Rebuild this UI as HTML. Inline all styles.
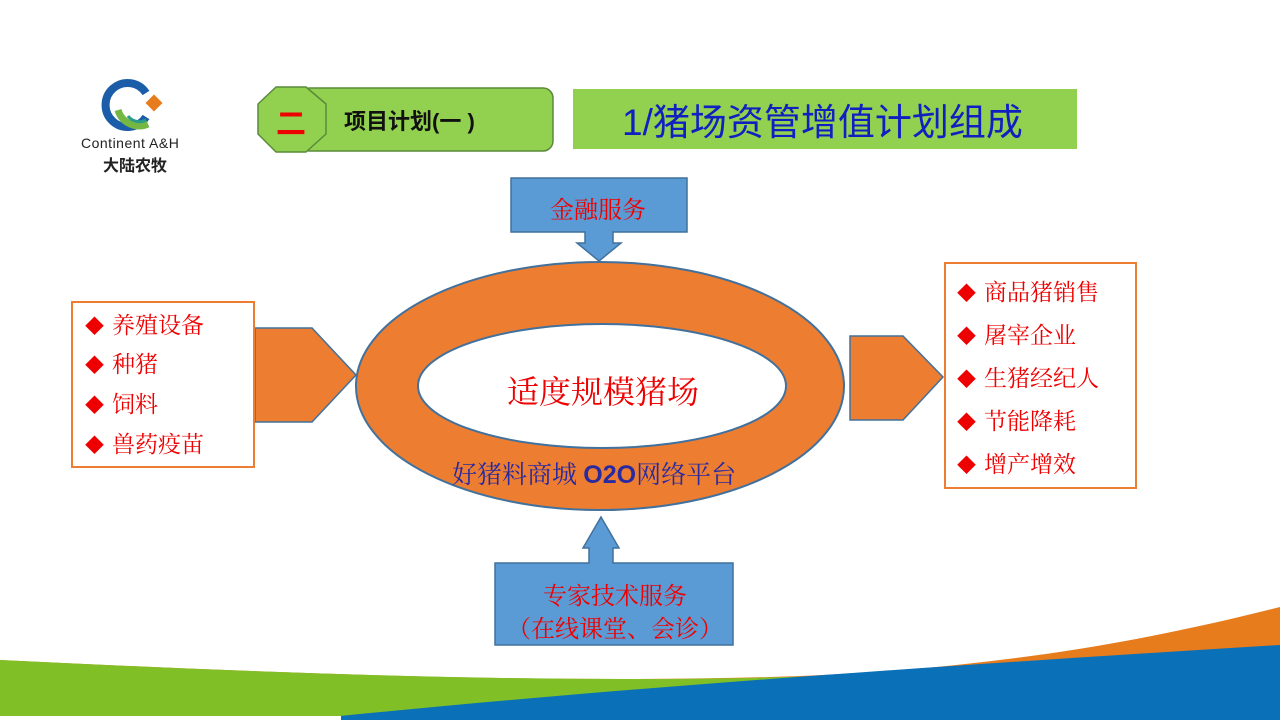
<!DOCTYPE html>
<html><head><meta charset="utf-8"><style>
body{margin:0;width:1280px;height:720px;position:relative;overflow:hidden;background:#fff;font-family:"Liberation Sans","Noto Sans CJK SC",sans-serif}
.a{position:absolute;white-space:nowrap}
.serif{font-family:"Liberation Serif","Noto Serif CJK SC",serif}
.li{position:absolute;font-size:23px;color:#e00;line-height:28px;font-family:"Liberation Serif","Noto Serif CJK SC",serif;white-space:nowrap}
.li span{font-size:19px;margin-right:8px}
</style></head><body>
<svg class="a" style="left:0;top:0" width="1280" height="720">
<path d="M0,660 C250,672 550,685 800,676 C1000,668 1150,640 1280,607 L1280,720 L0,720Z" fill="#e67c1c"/>
<path d="M0,660 C250,672 550,685 820,676 L340,716 L0,716Z" fill="#80bf26"/>
<path d="M340,716 C600,690 900,668 1280,645 L1280,720 L340,720Z" fill="#0a70b8"/>
<rect x="0" y="716" width="341" height="4" fill="#fff"/>
<path d="M146,93 A22,22 0 1 0 146,117" fill="none" stroke="#1b5da8" stroke-width="8"/>
<path d="M118,110 A22,22 0 0 0 148,124" fill="none" stroke="#74b843" stroke-width="7"/>
<path d="M128,116 A14,14 0 0 0 146,120" fill="none" stroke="#2a9a8a" stroke-width="3"/>
<rect x="148" y="97" width="12" height="12" fill="#e67c1c" transform="rotate(45 154 103)"/>
<rect x="300" y="88" width="253" height="63" rx="10" fill="#92d050" stroke="#5a8a3a" stroke-width="1.5"/>
<path d="M276,87 L306,87 L326,104 L326,134 L306,152 L276,152 L258,134 L258,104Z" fill="#92d050" stroke="#5a8a3a" stroke-width="1.5" stroke-linejoin="round"/>
<rect x="573" y="89" width="504" height="60" fill="#92d050"/>
<path d="M511,178 L687,178 L687,232 L613,232 L613,243 L621,243 L599,261 L577,243 L585,243 L585,232 L511,232Z" fill="#5b9bd5" stroke="#41719c" stroke-width="1.5"/>
<path d="M495,563 L589,563 L589,548 L583,548 L601,517 L619,548 L613,548 L613,563 L733,563 L733,645 L495,645Z" fill="#5b9bd5" stroke="#41719c" stroke-width="1.5"/>
<path d="M255,328 L312,328 L356,375 L312,422 L255,422Z" fill="#ed7d31" stroke="#41719c" stroke-width="1.5"/>
<path d="M850,336 L903,336 L943,377 L903,420 L850,420Z" fill="#ed7d31" stroke="#41719c" stroke-width="1.5"/>
<path fill-rule="evenodd" d="M356,386 a244,124 0 1 0 488,0 a244,124 0 1 0 -488,0Z M418,386 a184,62 0 1 0 368,0 a184,62 0 1 0 -368,0Z" fill="#ed7d31" stroke="#41719c" stroke-width="2"/>
<rect x="72" y="302" width="182" height="165" fill="#fff" stroke="#ed7d31" stroke-width="2"/>
<rect x="945" y="263" width="191" height="225" fill="#fff" stroke="#ed7d31" stroke-width="2"/>
</svg>
<div class="a" style="left:81px;top:135px;font-size:14px;color:#222;letter-spacing:0.5px">Continent A&amp;H</div>
<div class="a" style="left:103px;top:152px;font-size:16px;font-weight:bold;color:#222">大陆农牧</div>
<div class="a" style="left:276px;top:99px;font-size:30px;color:#e00;font-weight:bold">二</div>
<div class="a" style="left:344px;top:104px;font-size:22px;font-weight:bold;color:#111">项目计划(一 )</div>
<div class="a" style="left:622px;top:92px;font-size:37px;color:#1020c0">1/猪场资管增值计划组成</div>
<div class="a serif" style="left:550px;top:190px;font-size:24px;color:#e00">金融服务</div>
<div class="a serif" style="left:543px;top:576px;font-size:24px;color:#e00">专家技术服务</div>
<div class="a serif" style="left:507px;top:609px;font-size:24px;color:#e00">（在线课堂、会诊）</div>
<div class="a serif" style="left:507px;top:367px;font-size:32px;color:#e00">适度规模猪场</div>
<div class="a serif" style="left:452px;top:455px;font-size:25px;color:#2a2aa0">好猪料商城 <b style="font-family:'Liberation Sans',sans-serif">O2O</b>网络平台</div>
<div class="li" style="left:85px;top:312px"><span>◆</span>养殖设备</div>
<div class="li" style="left:85px;top:351px"><span>◆</span>种猪</div>
<div class="li" style="left:85px;top:391px"><span>◆</span>饲料</div>
<div class="li" style="left:85px;top:431px"><span>◆</span>兽药疫苗</div>
<div class="li" style="left:957px;top:279px"><span>◆</span>商品猪销售</div>
<div class="li" style="left:957px;top:322px"><span>◆</span>屠宰企业</div>
<div class="li" style="left:957px;top:365px"><span>◆</span>生猪经纪人</div>
<div class="li" style="left:957px;top:408px"><span>◆</span>节能降耗</div>
<div class="li" style="left:957px;top:451px"><span>◆</span>增产增效</div>
</body></html>
